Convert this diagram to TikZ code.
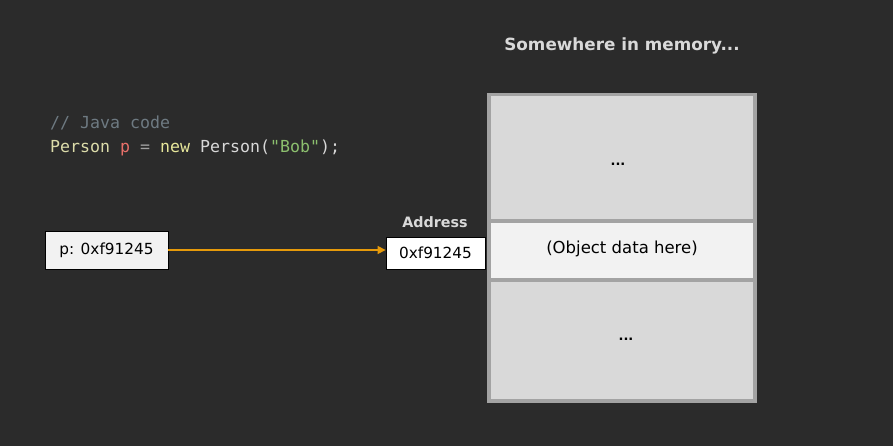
\documentclass[tikz,border=0pt]{standalone}
\usepackage{fontspec}
\setmainfont{DejaVu Sans}
\newfontfamily\codefont{DejaVu Sans Mono}
\usetikzlibrary{arrows.meta}
\definecolor{bg}{HTML}{2B2B2B}
\definecolor{memborder}{HTML}{A3A3A3}
\definecolor{cellgrey}{HTML}{D9D9D9}
\definecolor{celllight}{HTML}{F2F2F2}
\definecolor{titlegrey}{HTML}{D9D9D9}
\definecolor{arrowor}{HTML}{E69A0A}
\definecolor{cmt}{HTML}{6E7A82}
\definecolor{cyel}{HTML}{DCDCAA}
\definecolor{cred}{HTML}{E8706A}
\definecolor{cop}{HTML}{A0A0A0}
\definecolor{cnew}{HTML}{E6E69A}
\definecolor{cwhite}{HTML}{D8D8D8}
\definecolor{cgreen}{HTML}{8CBF6E}
\tikzset{
  cell/.style={draw=none, inner sep=0},
  smallbox/.style={draw=black, line width=0.8pt, fill=celllight, inner sep=0, font=\fontsize{15.3}{17}\selectfont, text=black},
  lbl/.style={inner sep=0, font=\bfseries\fontsize{14.3}{16}\selectfont, text=titlegrey},
  code/.style={inner sep=0, anchor=base west, font=\codefont\fontsize{16.6}{19}\selectfont},
  ptr/.style={draw=arrowor, line width=1.2pt, -{Triangle[length=8pt,width=8pt]}}
}
\begin{document}
\begin{tikzpicture}[x=1pt,y=-1pt]
\fill[bg] (0,0) rectangle (893,446);
\useasboundingbox (0,0) rectangle (893,446);
% title
\node[inner sep=0, font=\bfseries\fontsize{16.8}{19}\selectfont, text=titlegrey] (title) at (622,46) {Somewhere in memory...};
% code
\node[code, text=cmt] (comment) at (50,129) {// Java code};
\node[code] (codeline) at (50,153) {\textcolor{cyel}{Person} \textcolor{cred}{p} \textcolor{cop}{=} \textcolor{cnew}{new} \textcolor{cwhite}{Person(}\textcolor{cgreen}{"Bob"}\textcolor{cwhite}{);}};
% memory
\fill[memborder] (487,93) rectangle (757,403);
\fill[cellgrey] (491,96) rectangle (753,219);
\fill[celllight] (491,223) rectangle (753,278);
\fill[cellgrey] (491,282) rectangle (753,399);
\node[cell, anchor=base, font=\bfseries\fontsize{13}{15}\selectfont] (dots1) at (618,166) {...};
\node[cell, anchor=base, font=\fontsize{16.5}{18}\selectfont] (objdata) at (622,253) {(Object data here)};
\node[cell, anchor=base, font=\bfseries\fontsize{13}{15}\selectfont] (dots2) at (626,340) {...};
% boxes
\node[smallbox, minimum width=123pt, minimum height=38pt] (pbox) at (106.5,250) {p: 0xf91245};
\node[smallbox, fill=white, minimum width=99pt, minimum height=32pt] (addr) at (435.5,253) {0xf91245};
\node[lbl, anchor=south] (addrlbl) at (435,228) {Address};
\draw[ptr] (pbox.east) -- (addr.west |- pbox.east);
\end{tikzpicture}
\end{document}
